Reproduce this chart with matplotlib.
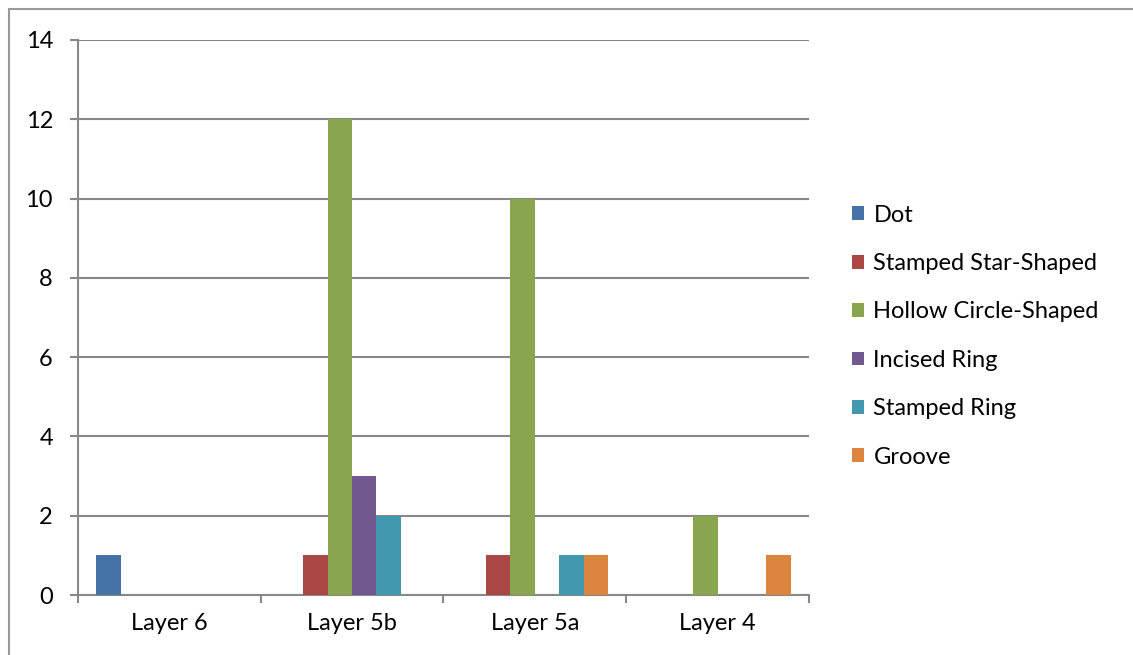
import numpy as np
import matplotlib
matplotlib.use("Agg")
from matplotlib import pyplot as plt
from matplotlib.patches import Rectangle

plt.rcParams['font.family'] = ['Lato', 'DejaVu Sans']

# Counts of decoration types per layer
layers = ['Layer 6', 'Layer 5b', 'Layer 5a', 'Layer 4']
series_names = ['Dot', 'Stamped Star-Shaped', 'Hollow Circle-Shaped',
                'Incised Ring', 'Stamped Ring', 'Groove']
dot = [1, 0, 0, 0]
star_shaped = [0, 1, 1, 0]
hollow_circle = [0, 12, 10, 2]
incised_ring = [0, 3, 0, 0]
stamped_ring = [0, 2, 1, 0]
groove = [0, 0, 1, 1]
colors = ['#4572A7', '#AA4643', '#89A54E', '#71588F', '#4198AF', '#DB843D']

series = [dot, star_shaped, hollow_circle, incised_ring, stamped_ring, groove]

fig = plt.figure(figsize=(11.33, 6.55), dpi=100)
ax = fig.add_axes([0.0688, 0.0916, 0.6452, 0.8474])

grid_col = '#888888'
fs = 17
n = len(series)
gap = 1.5
width = 1.0 / (n + gap)
x = np.arange(len(layers))
for i, (vals, name, c) in enumerate(zip(series, series_names, colors)):
    offs = x + width * gap / 2 + width * i + width / 2
    ax.bar(offs, vals, width=width, color=c, label=name, linewidth=0, zorder=3)

ax.set_xlim(0, len(layers))
ax.set_ylim(0, 14)
ax.set_yticks(range(0, 15, 2))
ax.yaxis.grid(True, color=grid_col, linewidth=1.5, zorder=0)

# category boundaries get tick marks, names sit in between
ax.set_xticks(range(len(layers) + 1))
ax.set_xticklabels([])
ax.set_xticks(x + 0.5, minor=True)
ax.set_xticklabels(layers, minor=True)
ax.tick_params(axis='x', which='major', length=6, width=1.5, color=grid_col)
ax.tick_params(axis='x', which='minor', length=0, pad=13, labelsize=fs)
ax.tick_params(axis='y', length=6, width=1.5, color=grid_col, pad=12, labelsize=fs)

for s in ['top', 'right']:
    ax.spines[s].set_visible(False)
for s in ['left', 'bottom']:
    ax.spines[s].set_color(grid_col)
    ax.spines[s].set_linewidth(1.5)

ax.legend(loc='upper left', bbox_to_anchor=(0.733, 0.72), bbox_transform=fig.transFigure,
          frameon=False, fontsize=fs, handlelength=0.52, handleheight=0.52,
          handletextpad=0.4, labelspacing=1.16)

# chart frame
fig.patches.append(Rectangle((9 / 1133, -0.1), 1.2, 1 - 9 / 655 + 0.1,
                             transform=fig.transFigure, fill=False,
                             edgecolor='#999999', linewidth=1.5))

fig.savefig('out.png', dpi=100)
